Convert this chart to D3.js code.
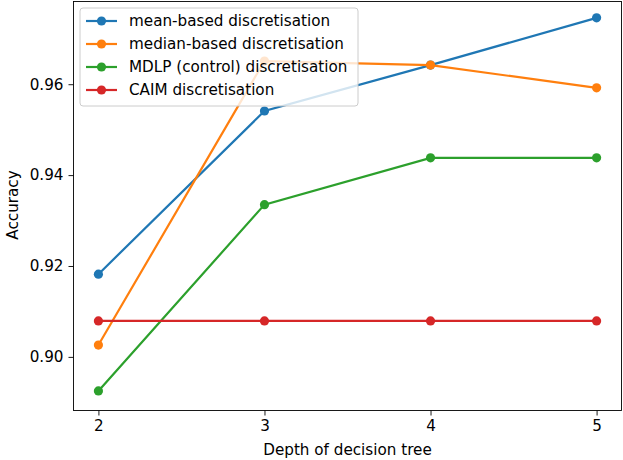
<!DOCTYPE html>
<html>
<head>
<meta charset="utf-8">
<script src="https://cdn.jsdelivr.net/npm/d3@7"></script>
<style>
  body { margin: 0; background: #fff; }
  text { font-family: "DejaVu Sans", sans-serif; fill: #000; }
</style>
</head>
<body>
<div id="chart-area"></div>
<script>
// data
let depths = [2, 3, 4, 5];
let seriesNames = ["mean-based discretisation", "median-based discretisation",
                   "MDLP (control) discretisation", "CAIM discretisation"];
let meanAcc   = [0.9182, 0.9541, 0.9642, 0.9746];
let medianAcc = [0.9026, 0.9651, 0.9642, 0.9592];
let mdlpAcc   = [0.8925, 0.9335, 0.9438, 0.9438];
let caimAcc   = [0.9079, 0.9079, 0.9079, 0.9079];
let yTicks = [0.90, 0.92, 0.94, 0.96];
let colors = ["#1f77b4", "#ff7f0e", "#2ca02c", "#d62728"];

let allSeries = [meanAcc, medianAcc, mdlpAcc, caimAcc];

let W = 623, H = 460;
let fontSize = "15.2px";
let margin = {top: 1.5, right: 1.5, bottom: 49.5, left: 73.5},
    width = W - margin.left - margin.right,
    height = H - margin.top - margin.bottom;

let svg = d3.select("#chart-area")
    .append("svg")
        .attr("width", W)
        .attr("height", H)
    .append("g")
        .attr("transform", "translate(" + margin.left + ", " + margin.top + ")");

let x = d3.scaleLinear()
    .domain([1.85, 5.15])
    .range([0, width]);

let y = d3.scaleLinear()
    .domain([0.8882, 0.9782])
    .range([height, 0]);

// axes
let xAxisCall = d3.axisBottom(x).tickValues(depths).tickFormat(d3.format("d"))
    .tickSizeOuter(0).tickSize(5).tickPadding(5);
let yAxisCall = d3.axisLeft(y).tickValues(yTicks).tickFormat(d3.format(".2f"))
    .tickSizeOuter(0).tickSize(5).tickPadding(5);

let xAxisGroup = svg.append("g")
    .attr("transform", "translate(0, " + height + ")")
    .call(xAxisCall);
let yAxisGroup = svg.append("g")
    .call(yAxisCall);

[xAxisGroup, yAxisGroup].forEach(g => {
    g.select(".domain").remove();
    g.selectAll(".tick line").attr("stroke", "#000").attr("stroke-width", 0.9);
    g.selectAll(".tick text")
        .attr("font-size", fontSize)
        .attr("font-family", "DejaVu Sans")
        .attr("fill", "#000");
});

// lines and markers
let line = d3.line()
    .x((d, i) => x(depths[i]))
    .y(d => y(d));

allSeries.forEach((vals, s) => {
    svg.append("path")
        .attr("d", line(vals))
        .attr("fill", "none")
        .attr("stroke", colors[s])
        .attr("stroke-width", 2.2);
    svg.selectAll(".dot" + s)
        .data(vals)
        .enter()
        .append("circle")
            .attr("cx", (d, i) => x(depths[i]))
            .attr("cy", d => y(d))
            .attr("r", 4.6)
            .attr("fill", colors[s]);
});

// frame
svg.append("rect")
    .attr("x", 0).attr("y", 0)
    .attr("width", width).attr("height", height)
    .attr("fill", "none")
    .attr("stroke", "#000")
    .attr("stroke-width", 0.9);

// axis labels
svg.append("text")
    .attr("x", width / 2)
    .attr("y", height + 44)
    .attr("font-size", fontSize)
    .attr("text-anchor", "middle")
    .text("Depth of decision tree");

svg.append("text")
    .attr("transform", "rotate(-90)")
    .attr("x", -205 + margin.top)
    .attr("y", -56)
    .attr("font-size", fontSize)
    .attr("text-anchor", "middle")
    .text("Accuracy");

// legend
let legend = svg.append("g")
    .attr("transform", "translate(" + (80 - margin.left) + ", " + (8 - margin.top) + ")");

legend.append("rect")
    .attr("x", 0).attr("y", 0)
    .attr("width", 278).attr("height", 98)
    .attr("rx", 3)
    .attr("fill", "#fff")
    .attr("fill-opacity", 0.8)
    .attr("stroke", "#ccc")
    .attr("stroke-width", 1);

seriesNames.forEach((name, i) => {
    let ly = 13 + i * 23;
    legend.append("line")
        .attr("x1", 6).attr("x2", 37)
        .attr("y1", ly).attr("y2", ly)
        .attr("stroke", colors[i])
        .attr("stroke-width", 2.2);
    legend.append("circle")
        .attr("cx", 21.5).attr("cy", ly)
        .attr("r", 4.6)
        .attr("fill", colors[i]);
    legend.append("text")
        .attr("x", 49)
        .attr("y", ly)
        .attr("dy", "0.35em")
        .attr("font-size", fontSize)
        .text(name);
});
</script>
</body>
</html>
